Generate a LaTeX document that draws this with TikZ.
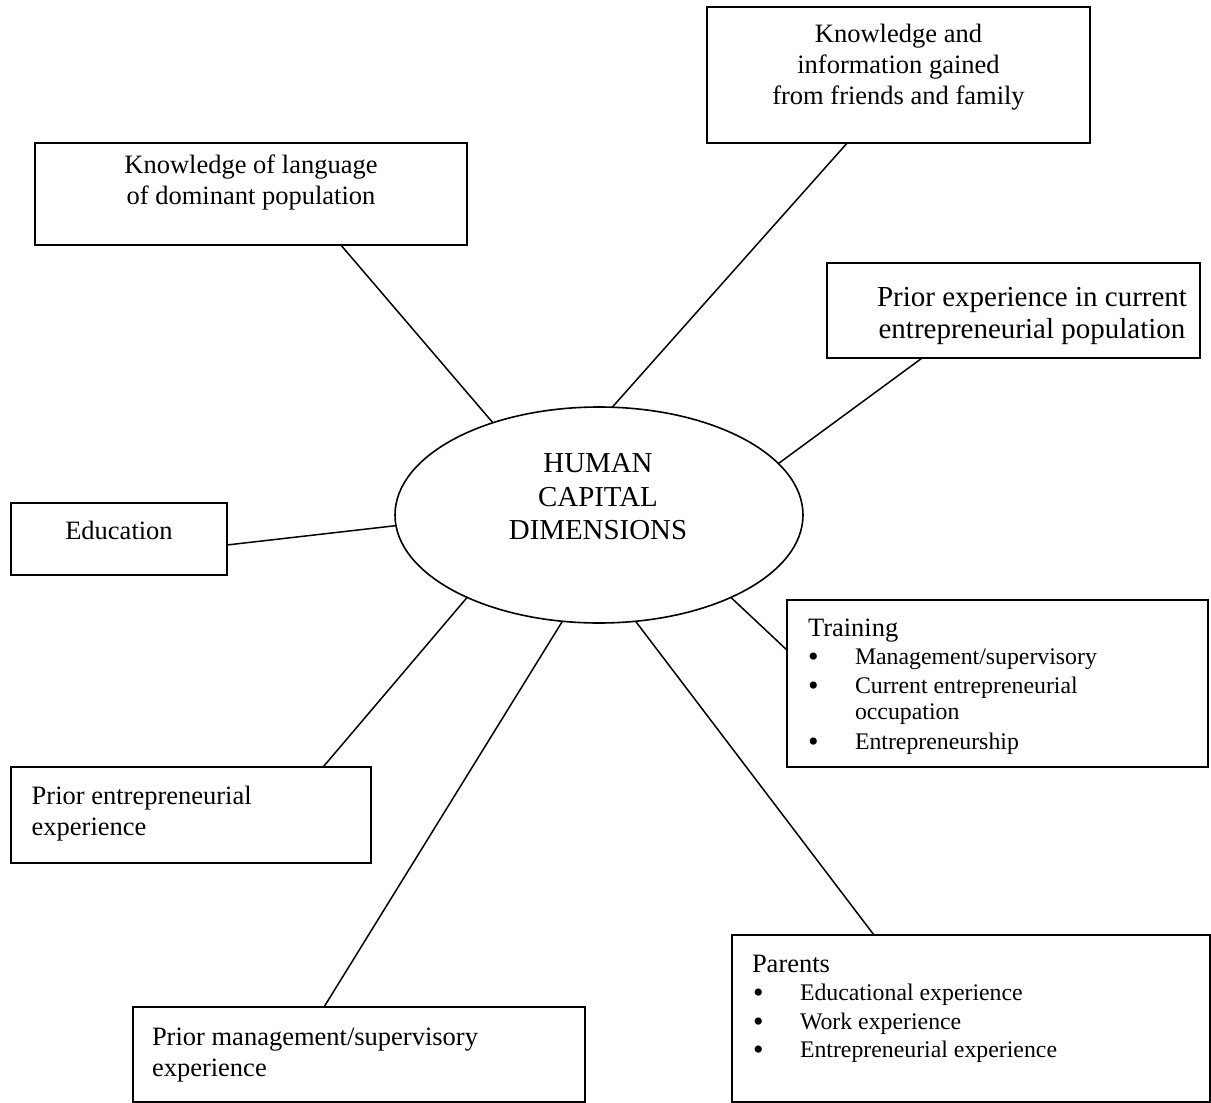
\documentclass[tikz,border=0pt]{standalone}
\usepackage{fontspec}
\setmainfont{Liberation Serif}
\usetikzlibrary{shapes.geometric,calc}
\newcommand{\mainsize}{\fontsize{26.5}{31}\selectfont}
\newcommand{\bigsize}{\fontsize{29}{32}\selectfont}
\newcommand{\listsize}{\fontsize{23.8}{28.5}\selectfont}
\newcommand{\ellsize}{\fontsize{28.9}{33.5}\selectfont}
\newcommand{\bul}{\hspace*{21pt}\makebox[47pt][l]{\raisebox{-2pt}{\fontsize{30}{28.5}\selectfont\textbullet}}}
\newcommand{\cbox}[4]{\parbox[c][#2pt][t]{#1pt}{\centering\mainsize\rule{0pt}{#3pt}#4}}
\newcommand{\lbox}[4]{\parbox[c][#2pt][t]{#1pt}{\raggedright\mainsize\rule{0pt}{#3pt}#4}}
\tikzset{
  box/.style={draw, line width=1.8pt, rectangle, inner sep=0pt, outer sep=0pt, anchor=north west},
  link/.style={line width=1.5pt},
  hub/.style={draw, ellipse, line width=1.6pt, minimum width=408pt, minimum height=216pt, inner sep=0pt, outer sep=0pt},
}
\begin{document}
\begin{tikzpicture}[x=1pt,y=-1pt]
\fill[white] (0,0) rectangle (1211,1103);
\useasboundingbox (0,0) rectangle (1211,1103);

\node[hub] (hub) at (599,515) {};
\node[font=\ellsize, align=center, inner sep=0pt] (hubtext) at (598,496.8) {HUMAN\\CAPITAL\\DIMENSIONS};

\node[box] (lang) at (35,143) {\cbox{432}{102}{30}{Knowledge of language\\of dominant population}};
\node[box] (family) at (707,7) {\cbox{383}{136}{35}{Knowledge and\\information gained\\from friends and family}};
\node[box] (current) at (827,263) {\parbox[c][95pt][t]{373pt}{\centering\bigsize\rule{0pt}{43pt}\hspace*{37pt}Prior experience in current\\\hspace*{37pt}entrepreneurial population}};
\node[box] (edu) at (11,503) {\cbox{216}{72}{36}{Education}};

\node[box] (train) at (787,600) {\parbox[c][167pt][t]{421pt}{\raggedright\mainsize
  \rule{0pt}{36pt}\hspace*{21pt}Training\par
  \listsize
  \bul Management/supervisory\par
  \bul Current entrepreneurial\par
  \vspace{-2.5pt}\hspace*{68pt}occupation\par
  \vspace{1.5pt}\bul Entrepreneurship\par}};

\node[box] (parents) at (732,935) {\parbox[c][167pt][t]{478pt}{\raggedright\mainsize
  \rule{0pt}{37pt}\hspace*{20pt}Parents\par
  \listsize
  \bul Educational experience\par
  \bul Work experience\par
  \bul Entrepreneurial experience\par}};

\node[box] (prior) at (11,767) {\lbox{360}{96}{37}{\hspace*{20.7pt}Prior entrepreneurial\\\hspace*{20.7pt}experience}};
\node[box] (mgmt) at (133,1007) {\lbox{452}{95}{38.5}{\hspace*{19pt}Prior management/supervisory\\\hspace*{19pt}experience}};

\draw[link] ($(lang.south west)!0.708!(lang.south east)$) -- (hub.139.7);
\draw[link] ($(family.south west)!0.366!(family.south east)$) -- (hub.83.4);
\draw[link] ($(current.south west)!0.255!(current.south east)$) -- (hub.16.1);
\draw[link] ($(edu.north east)!0.583!(edu.south east)$) -- (hub.183.3);
\draw[link] (hub.-32.1) -- ($(train.north west)!0.30!(train.south west)$);
\draw[link] (hub.-71.5) -- ($(parents.north west)!0.297!(parents.north east)$);
\draw[link] (hub.251.2) -- ($(mgmt.north west)!0.4226!(mgmt.north east)$);
\draw[link] (hub.212.3) -- ($(prior.north west)!0.867!(prior.north east)$);
\end{tikzpicture}
\end{document}
